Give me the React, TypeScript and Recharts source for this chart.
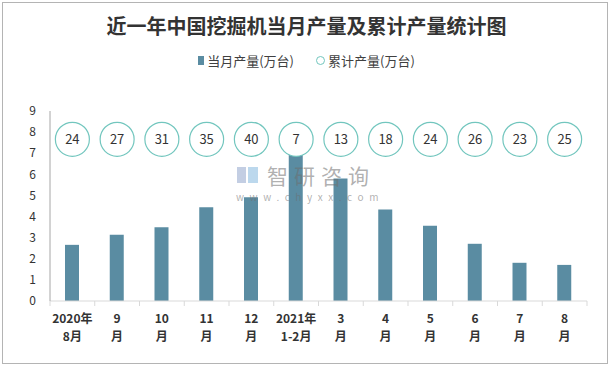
import { ComposedChart, Bar, Line, XAxis, YAxis } from 'recharts';

const TICK_TOP = ['2020年', '9', '10', '11', '12', '2021年', '3', '4', '5', '6', '7', '8'];
const TICK_BOTTOM = ['8月', '月', '月', '月', '月', '1-2月', '月', '月', '月', '月', '月', '月'];
const MONTHLY = [2.66, 3.14, 3.49, 4.44, 4.91, 7.08, 5.8, 4.33, 3.57, 2.71, 1.81, 1.71];
const CUMULATIVE = [24, 27, 31, 35, 40, 7, 13, 18, 24, 26, 23, 25];
const Y_TICKS = [0, 1, 2, 3, 4, 5, 6, 7, 8, 9];

const BAR_COLOR = '#5a8ca2';
const RING_COLOR = '#72c6be';
const FONT = '"Noto Sans CJK SC", "Noto Sans", sans-serif';
const BUBBLE_LEVEL = 7.66;

const data = TICK_TOP.map((t, i) => ({
  name: t + TICK_BOTTOM[i],
  top: t,
  bottom: TICK_BOTTOM[i],
  monthly: MONTHLY[i],
  total: CUMULATIVE[i],
}));

const BAND = 537 / data.length;

function MonthTick(props: any) {
  const { x, y, payload } = props;
  const d = data[payload.index];
  const last = payload.index === data.length - 1;
  return (
    <g>
      <line x1={x - BAND / 2} x2={x - BAND / 2} y1={y - 8} y2={y - 3} stroke="#d9d9d9" />
      {last && <line x1={x + BAND / 2} x2={x + BAND / 2} y1={y - 8} y2={y - 3} stroke="#d9d9d9" />}
      <text x={x} y={y + 14} textAnchor="middle" fontSize={12} fontWeight="bold" fill="#333" fontFamily={FONT}>
        {d.top}
      </text>
      <text x={x} y={y + 32} textAnchor="middle" fontSize={12} fontWeight="bold" fill="#333" fontFamily={FONT}>
        {d.bottom}
      </text>
    </g>
  );
}

function Bubble(props: any) {
  const { cx, cy, payload } = props;
  if (cx == null || cy == null) return null;
  return (
    <g>
      <circle cx={cx} cy={cy} r={17} fill="#fff" stroke={RING_COLOR} strokeWidth={1.2} />
      <text x={cx} y={cy + 4.5} textAnchor="middle" fontSize={13} fill="#333" fontFamily={FONT}>
        {payload.total}
      </text>
    </g>
  );
}

function LegendBox() {
  return (
    <div
      style={{
        position: 'absolute', left: 0, top: 51, width: 613,
        display: 'flex', justifyContent: 'center', alignItems: 'center', gap: 22,
        fontFamily: FONT, fontSize: 13, color: '#404040',
      }}
    >
      <span style={{ display: 'flex', alignItems: 'center', gap: 3 }}>
        <span style={{ width: 6, height: 9, background: BAR_COLOR, display: 'inline-block' }} />
        当月产量(万台)
      </span>
      <span style={{ display: 'flex', alignItems: 'center', gap: 3 }}>
        <span style={{ width: 7, height: 7, borderRadius: '50%', border: `1.2px solid ${RING_COLOR}`, display: 'inline-block' }} />
        累计产量(万台)
      </span>
    </div>
  );
}

function Watermark() {
  return (
    <div style={{ position: 'absolute', left: 0, top: 0, fontFamily: FONT, color: 'rgba(110,110,110,0.55)', pointerEvents: 'none' }}>
      <div style={{ position: 'absolute', left: 237, top: 167, width: 9, height: 16, background: 'rgba(170,185,215,0.7)' }} />
      <div style={{ position: 'absolute', left: 248, top: 167, width: 10, height: 16, background: 'rgba(160,200,230,0.7)' }} />
      <div style={{ position: 'absolute', left: 267, top: 165, fontSize: 21, lineHeight: '21px', letterSpacing: 6, whiteSpace: 'nowrap' }}>
        智研咨询
      </div>
      <div style={{ position: 'absolute', left: 236, top: 191, fontSize: 10, lineHeight: '11px', letterSpacing: 5.6, whiteSpace: 'nowrap' }}>
        www.chyxx.com
      </div>
    </div>
  );
}

export default function App() {
  return (
    <div style={{ position: 'fixed', left: 0, top: 0, width: 613, height: 368, background: '#fff' }}>
      <div style={{ position: 'absolute', left: 2, top: 2, width: 604, height: 360, border: '1px solid #b4b4b4' }} />
      <div
        style={{
          position: 'absolute', left: 0, top: 12, width: 613, textAlign: 'center',
          fontFamily: FONT, fontSize: 20, lineHeight: '28px', fontWeight: 'bold', color: '#333',
        }}
      >
        近一年中国挖掘机当月产量及累计产量统计图
      </div>
      <LegendBox />
      <ComposedChart
        width={613}
        height={368}
        data={data}
        margin={{ top: 111, right: 26, bottom: 0, left: 0 }}
        style={{ position: 'absolute', left: 0, top: 0 }}
      >
        <XAxis
          dataKey="name"
          height={67}
          axisLine={{ stroke: '#d9d9d9' }}
          tickLine={false}
          interval={0}
          tick={<MonthTick />}
        />
        <YAxis
          width={50}
          domain={[0, 9]}
          ticks={Y_TICKS}
          interval={0}
          axisLine={{ stroke: '#a6a6a6' }}
          tickLine={false}
          tick={{ fontSize: 12, fill: '#333', fontFamily: FONT }}
          tickMargin={8}
        />
        <Bar dataKey="monthly" name="当月产量(万台)" fill={BAR_COLOR} barSize={14} isAnimationActive={false} />
        <Line
          dataKey={() => BUBBLE_LEVEL}
          name="累计产量(万台)"
          stroke="none"
          dot={<Bubble />}
          activeDot={false}
          isAnimationActive={false}
        />
      </ComposedChart>
      <Watermark />
    </div>
  );
}
